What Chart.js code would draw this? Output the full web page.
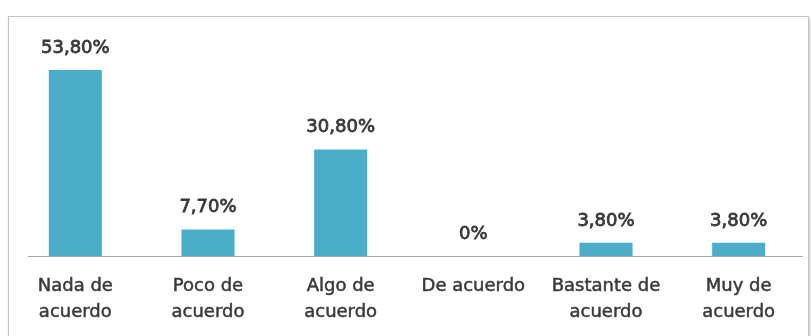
<!DOCTYPE html>
<html>
<head>
<meta charset="utf-8">
<script src="https://cdn.jsdelivr.net/npm/chart.js@4.4.1/dist/chart.umd.min.js"></script>
<style>
  html, body { margin: 0; padding: 0; background: #ffffff; }
  #wrap { position: relative; width: 811px; height: 336px; overflow: hidden; }
  #frame {
    position: absolute; left: 8px; top: 16px; width: 799px; height: 360px;
    border: 1px solid #c4c4c4;
    box-shadow: 1px 2px 3px rgba(0,0,0,0.22);
    background: #ffffff;
  }
  canvas { position: absolute; left: 0; top: 0; }
</style>
</head>
<body>
<div id="wrap">
  <div id="frame"></div>
  <canvas id="c" width="811" height="336"></canvas>
</div>
<script>
// Respuestas por grado de acuerdo (porcentaje)
const categories = [
  ["Nada de", "acuerdo"],
  ["Poco de", "acuerdo"],
  ["Algo de", "acuerdo"],
  "De acuerdo",
  ["Bastante de", "acuerdo"],
  ["Muy de", "acuerdo"]
];
const values = [53.8, 7.7, 30.8, 0, 3.8, 3.8];
const valueLabels = ["53,80%", "7,70%", "30,80%", "0%", "3,80%", "3,80%"];

const textColor = "#3a3a3a";
const fontFamily = "'DejaVu Sans', sans-serif";

// Etiquetas de valor sobre cada barra
const valueLabelPlugin = {
  id: "valueLabels",
  afterDatasetsDraw(chart) {
    const ctx = chart.ctx;
    const meta = chart.getDatasetMeta(0);
    ctx.save();
    ctx.fillStyle = textColor;
    ctx.strokeStyle = textColor;
    ctx.lineWidth = 0.8;
    ctx.font = "18px " + fontFamily;
    ctx.textAlign = "center";
    ctx.textBaseline = "middle";
    meta.data.forEach((bar, i) => {
      ctx.fillText(valueLabels[i], bar.x, bar.y - 22);
      ctx.strokeText(valueLabels[i], bar.x, bar.y - 22);
    });
    ctx.restore();
  }
};

// Línea del eje horizontal
const baselinePlugin = {
  id: "baseline",
  beforeDatasetsDraw(chart) {
    const ctx = chart.ctx;
    const y = Math.round(chart.scales.y.getPixelForValue(0)) + 0.5;
    ctx.save();
    ctx.strokeStyle = "#a6a6a6";
    ctx.lineWidth = 1;
    ctx.beginPath();
    ctx.moveTo(28, y);
    ctx.lineTo(803, y);
    ctx.stroke();
    ctx.restore();
  }
};

new Chart(document.getElementById("c"), {
  type: "bar",
  data: {
    labels: categories,
    datasets: [{
      data: values,
      backgroundColor: "#4badc8",
      borderWidth: 0,
      barPercentage: 0.4,
      categoryPercentage: 1.0
    }]
  },
  options: {
    responsive: false,
    animation: false,
    layout: { padding: { left: 9, right: 6, top: 48.6, bottom: 0 } },
    plugins: {
      legend: { display: false },
      tooltip: { enabled: false }
    },
    scales: {
      x: {
        grid: { display: false, drawTicks: false },
        border: { display: false },
        ticks: {
          color: textColor,
          textStrokeColor: textColor,
          textStrokeWidth: 0.5,
          padding: 17,
          maxRotation: 0,
          autoSkip: false,
          font: { family: fontFamily, size: 18, lineHeight: 1.45 }
        },
        afterFit(scale) { scale.height = 80; }
      },
      y: {
        display: false,
        min: 0,
        max: 60
      }
    }
  },
  plugins: [valueLabelPlugin, baselinePlugin]
});
</script>
</body>
</html>
